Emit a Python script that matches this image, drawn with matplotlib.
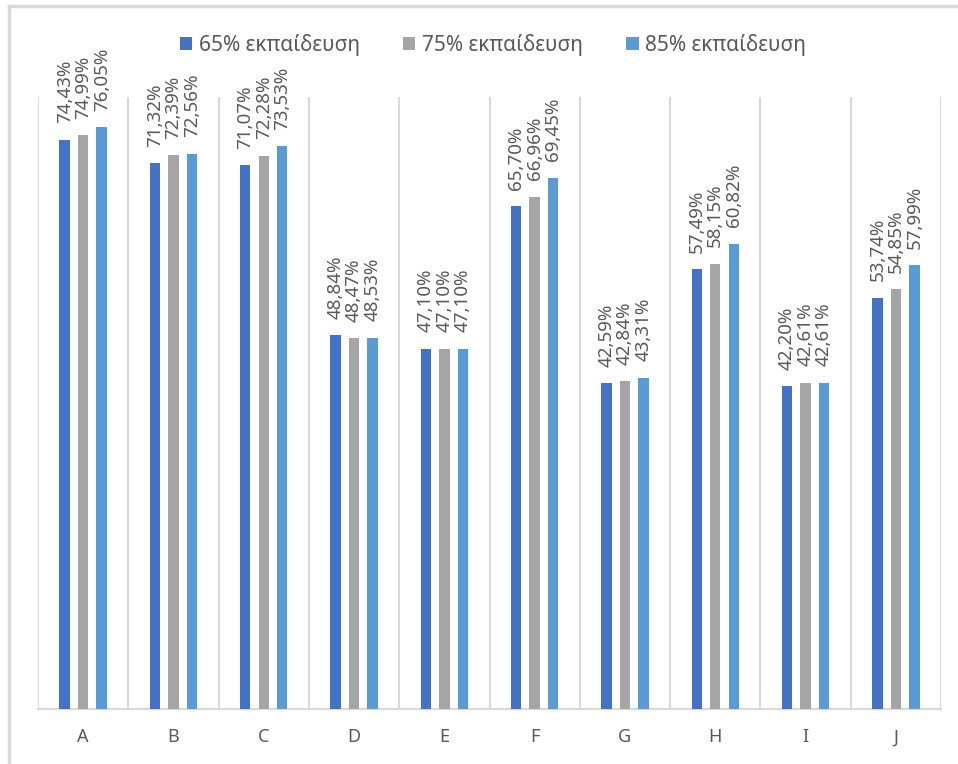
import matplotlib
matplotlib.use("Agg")
import matplotlib.pyplot as plt
from matplotlib.lines import Line2D
import numpy as np

plt.rcParams['font.family'] = ['Noto Sans', 'DejaVu Sans']

categories = ['A', 'B', 'C', 'D', 'E', 'F', 'G', 'H', 'I', 'J']
series_names = ['65% εκπαίδευση', '75% εκπαίδευση', '85% εκπαίδευση']
train_65 = [74.43, 71.32, 71.07, 48.84, 47.10, 65.70, 42.59, 57.49, 42.20, 53.74]
train_75 = [74.99, 72.39, 72.28, 48.47, 47.10, 66.96, 42.84, 58.15, 42.61, 54.85]
train_85 = [76.05, 72.56, 73.53, 48.53, 47.10, 69.45, 43.31, 60.82, 42.61, 57.99]
colors = ['#4472C4', '#A5A5A5', '#5B9BD5']

text_color = '#595959'
grid_color = '#D9D9D9'

fig = plt.figure(figsize=(9.58, 7.64), dpi=100)
W, H = 958, 764

# outer chart frame (top and left edges)
fig.add_artist(Line2D([9 / W, 9 / W], [0, 1 - 6 / H], color=grid_color, lw=2.5))
fig.add_artist(Line2D([9 / W, 1], [1 - 6 / H, 1 - 6 / H], color=grid_color, lw=2.5))

left, right = 38 / W, 941 / W
bottom, top = 1 - 709 / H, 1 - 97 / H
ax = fig.add_axes([left, bottom, right - left, top - bottom])

x = np.arange(len(categories))
offset = 0.205
width = 0.115
series = [train_65, train_75, train_85]

for i, (vals, name, col) in enumerate(zip(series, series_names, colors)):
    pos = x + (i - 1) * offset
    ax.bar(pos, vals, width=width, color=col, label=name, zorder=3)
    for p, v in zip(pos, vals):
        ax.annotate(f"{v:.2f}%".replace('.', ','), (p, v),
                    xytext=(0, 12), textcoords='offset points',
                    rotation=90, ha='center', va='bottom',
                    fontsize=13.5, color=text_color)

ax.set_xlim(-0.5, len(categories) - 0.5)
ax.set_ylim(0, 80)
ax.set_yticks([])
ax.set_xticks(x)
ax.set_xticklabels(categories, fontsize=13, color=text_color)
ax.tick_params(axis='x', length=0, pad=14)

# category separators
for b in np.arange(-0.5, len(categories), 1.0):
    ax.axvline(b, color=grid_color, lw=1.5, zorder=1)

for s in ['top', 'left', 'right']:
    ax.spines[s].set_visible(False)
ax.spines['bottom'].set_color(grid_color)
ax.spines['bottom'].set_linewidth(1.5)

fig.legend(loc='center', bbox_to_anchor=(493 / W, 1 - 45 / H), ncol=3,
           frameon=False, fontsize=15, labelcolor=text_color,
           handlelength=0.58, handleheight=0.58, handletextpad=0.3,
           columnspacing=2.1)

fig.savefig('out.png', dpi=100)
